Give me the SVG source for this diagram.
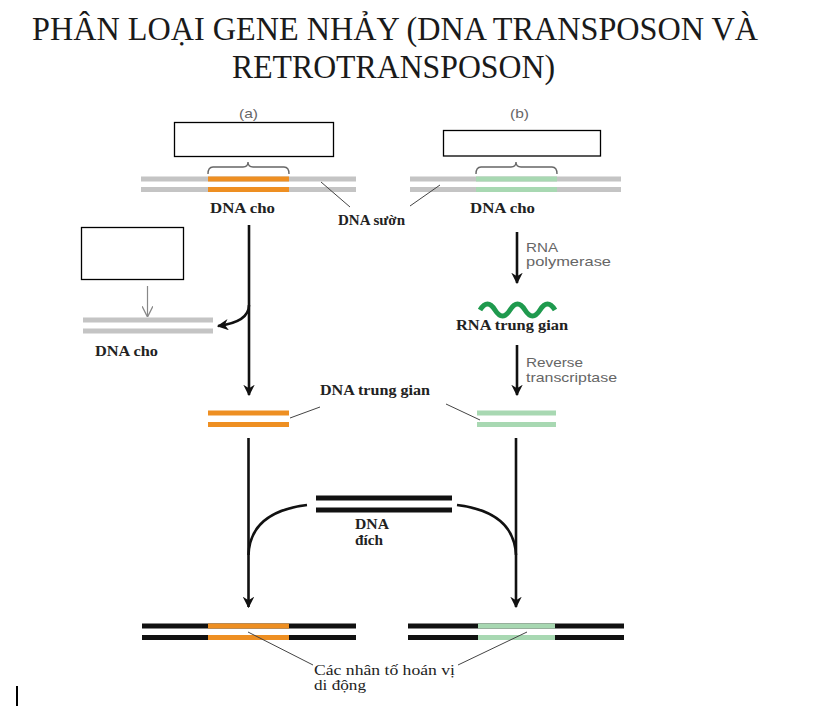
<svg xmlns="http://www.w3.org/2000/svg" width="837" height="721" viewBox="0 0 837 721">
<style>
.title{font-family:"Liberation Serif","Times New Roman",serif;font-size:33px;fill:#1a1a1a}
.lbl{font-family:"Liberation Serif","Times New Roman",serif;font-size:14px;fill:#222;font-weight:bold}
.lbln{font-family:"Liberation Serif","Times New Roman",serif;font-size:14px;fill:#222}
.sans{font-family:"Liberation Sans",Arial,sans-serif;font-size:13px;fill:#666}
.box{fill:#fff;stroke:#000;stroke-width:1.3}
.gray{stroke:#c4c4c4;stroke-width:5;fill:none}
.org{stroke:#ee8f22;stroke-width:5;fill:none}
.grn{stroke:#a8d8b2;stroke-width:5;fill:none}
.blk{stroke:#111;stroke-width:5;fill:none}
.arr{stroke:#111;stroke-width:2.6;fill:none}
.lead{stroke:#444;stroke-width:1;fill:none}
.brace{stroke:#666;stroke-width:1.4;fill:none}
</style>
<defs>
<marker id="ah" viewBox="0 0 10 10" refX="9" refY="5" markerWidth="4.4" markerHeight="4.4" orient="auto" markerUnits="strokeWidth">
<path d="M0,0 L10,5 L0,10 L3,5 z" fill="#111"/>
</marker>
<marker id="ahg" viewBox="0 0 10 10" refX="9" refY="5" markerWidth="9" markerHeight="9" orient="auto" markerUnits="strokeWidth">
<path d="M0,0 L10,5 L0,10" fill="none" stroke="#888" stroke-width="1.2"/>
</marker>
</defs>
<rect width="837" height="721" fill="#fff"/>
<g id="title">
<text class="title" x="32" y="40" textLength="726" lengthAdjust="spacingAndGlyphs">PHÂN LOẠI GENE NHẢY (DNA TRANSPOSON VÀ</text>
<text class="title" x="232" y="78" textLength="323" lengthAdjust="spacingAndGlyphs">RETROTRANSPOSON)</text>
</g>
<g id="label-a"><text class="sans" x="239" y="118" textLength="19" lengthAdjust="spacingAndGlyphs">(a)</text></g>
<g id="label-b"><text class="sans" x="510" y="118" textLength="19" lengthAdjust="spacingAndGlyphs">(b)</text></g>
<g id="box-a"><rect class="box" x="174.5" y="122.5" width="159" height="34"/></g>
<g id="box-b"><rect class="box" x="443.5" y="130.5" width="157" height="25.5"/></g>
<g id="box-c"><rect class="box" x="81.5" y="227.5" width="102" height="52"/></g>
<g id="donor-a">
<path class="gray" d="M141,179 H356 M141,189.5 H356"/>
<path class="org" d="M208,179 H289 M208,189.5 H289"/>
<path class="brace" d="M208,174 q0,-7 5,-7 H243 q5,0 5,-5 q0,5 5,5 H284 q5,0 5,7"/>
<text class="lbl" x="210" y="213" textLength="65" lengthAdjust="spacingAndGlyphs">DNA cho</text>
</g>
<g id="donor-b">
<path class="gray" d="M410,179 H621 M410,189.5 H621"/>
<path class="grn" d="M476,179 H557 M476,189.5 H557"/>
<path class="brace" d="M476,174 q0,-7 5,-7 H511 q5,0 5,-5 q0,5 5,5 H552 q5,0 5,7"/>
<text class="lbl" x="470" y="213" textLength="65" lengthAdjust="spacingAndGlyphs">DNA cho</text>
</g>
<g id="flank">
<text class="lbl" x="338" y="225" textLength="67" lengthAdjust="spacingAndGlyphs">DNA sườn</text>
</g>
<g id="donor-left">
<path class="gray" d="M83,320 H213 M83,331 H213"/>
<text class="lbl" x="95" y="356" textLength="63" lengthAdjust="spacingAndGlyphs">DNA cho</text>
</g>
<g id="rna">
<path d="M480,310 q7.5,-12 15,0 t15,0 t15,0 t15,0 t15,0" stroke="#1f9a4e" stroke-width="5" fill="none"/>
<text class="lbl" x="456" y="330" textLength="112" lengthAdjust="spacingAndGlyphs">RNA trung gian</text>
</g>
<g id="enzyme1"><text class="sans" x="526" y="252" textLength="32" lengthAdjust="spacingAndGlyphs">RNA</text><text class="sans" x="526" y="266" textLength="85" lengthAdjust="spacingAndGlyphs">polymerase</text></g>
<g id="enzyme2"><text class="sans" x="526" y="367" textLength="57" lengthAdjust="spacingAndGlyphs">Reverse</text><text class="sans" x="526" y="382" textLength="91" lengthAdjust="spacingAndGlyphs">transcriptase</text></g>
<g id="inter-a"><path class="org" d="M208,413 H289 M208,424.5 H289"/></g>
<g id="inter-b"><path class="grn" d="M477,413 H556 M477,424.5 H556"/></g>
<g id="inter-label"><text class="lbl" x="320" y="395" textLength="110" lengthAdjust="spacingAndGlyphs">DNA trung gian</text></g>
<g id="target">
<path class="blk" d="M316,498 H452 M316,510 H452"/>
<text class="lbl" x="355" y="529" textLength="34" lengthAdjust="spacingAndGlyphs">DNA</text>
<text class="lbl" x="355" y="545" textLength="28" lengthAdjust="spacingAndGlyphs">đích</text>
</g>
<g id="result-a">
<path class="blk" d="M142,626 H356 M142,637.5 H356"/>
<path class="org" d="M208,626 H289 M208,637.5 H289"/>
</g>
<g id="result-b">
<path class="blk" d="M408,626 H624 M408,637.5 H624"/>
<path class="grn" d="M478,626 H555 M478,637.5 H555"/>
</g>
<g id="te-label">
<text class="lbln" x="314" y="675" textLength="141" lengthAdjust="spacingAndGlyphs">Các nhân tố hoán vị</text>
<text class="lbln" x="314" y="690" textLength="52" lengthAdjust="spacingAndGlyphs">di động</text>
</g>
<g id="connectors">
<path class="arr" d="M249,225 V395" marker-end="url(#ah)"/>
<path class="arr" d="M249,305 Q249,322 218,326" marker-end="url(#ah)"/>
<path stroke="#888" stroke-width="1.2" fill="none" d="M147.5,286 V316" marker-end="url(#ahg)"/>
<path class="arr" d="M517,232 V283" marker-end="url(#ah)"/>
<path class="arr" d="M517,345 V395" marker-end="url(#ah)"/>
<path class="arr" d="M248.5,438 V607" marker-end="url(#ah)"/>
<path class="arr" d="M516,438 V607" marker-end="url(#ah)"/>
<path class="arr" d="M307,505 Q250,512 248.5,555"/>
<path class="arr" d="M457,505 Q514,512 516,555"/>
<path class="lead" d="M321,182 L350,207"/>
<path class="lead" d="M440,185 L410,206"/>
<path class="lead" d="M290,418 L320,407"/>
<path class="lead" d="M446,404 L480,420"/>
<path class="lead" d="M248,632 L313,665"/>
<path class="lead" d="M527,632 L458,665"/>
</g>
<g id="cursor"><rect x="16" y="686" width="2" height="20" fill="#000"/></g>
</svg>
